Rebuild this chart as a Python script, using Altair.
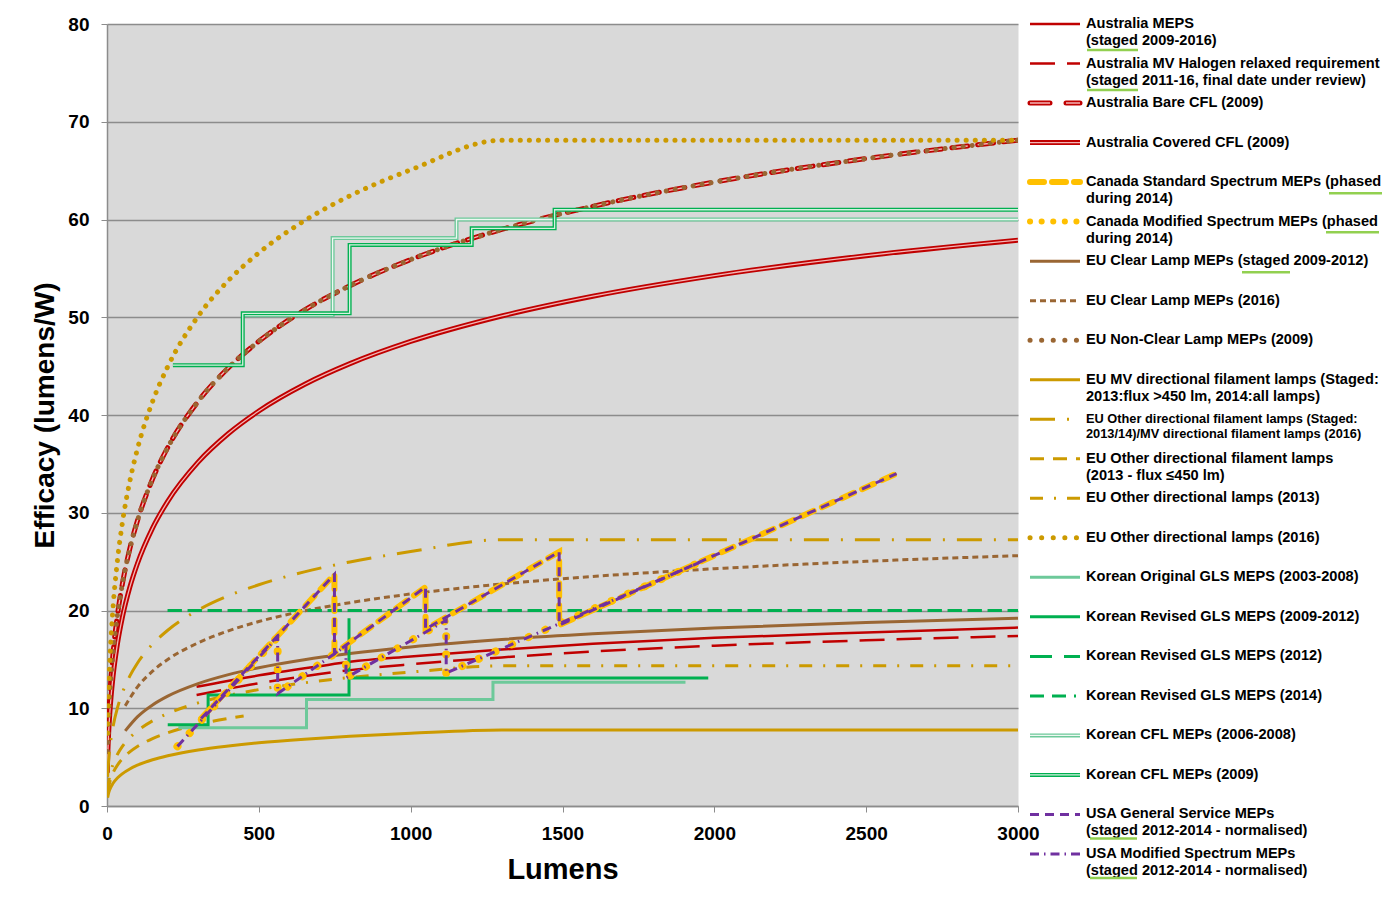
import altair as alt
import pandas as pd

FONT = "Liberation Sans"

# ---------------- data ----------------
# Australia
aus_lm = [295, 470, 700, 800, 1000, 1300, 1600, 2000, 2500, 3000]
aus_meps_eff = [12.2, 13.2, 14.3, 14.75, 15.3, 16.0, 16.6, 17.2, 17.75, 18.25]
aus_halogen_eff = [11.35, 12.4, 13.5, 13.9, 14.5, 15.2, 15.8, 16.4, 16.95, 17.4]

cfl_lm = [1, 2, 5, 10, 20, 35, 50, 75, 100, 150, 200, 300, 400, 500, 650, 800,
          1000, 1300, 1600, 2000, 2500, 3000]
aus_bare_cfl_eff = [4.0, 5.56, 8.50, 11.60, 15.63, 19.66, 22.60, 26.31, 29.15, 33.45,
                    36.67, 41.39, 44.84, 47.54, 50.73, 53.23, 55.90, 58.98, 61.35,
                    63.83, 66.23, 68.11]
aus_covered_cfl_eff = [3.40, 4.73, 7.23, 9.86, 13.29, 16.71, 19.21, 22.36, 24.78, 28.43,
                       31.17, 35.18, 38.11, 40.41, 43.12, 45.25, 47.52, 50.13, 52.15,
                       54.26, 56.30, 57.89]
eu_nonclear_eff = [4.0, 5.56, 8.50, 11.60, 15.63, 19.66, 22.60, 26.31, 29.15, 33.45,
                   36.67, 41.39, 44.84, 47.54, 50.73, 53.23, 55.90, 58.98, 61.35,
                   63.83, 66.23, 68.11]

# EU clear lamps
eu_clear_lm = [60, 100, 150, 200, 300, 400, 500, 650, 800, 1000, 1300, 1600, 2000, 2500, 3000]
eu_clear_staged_eff = [7.69, 9.12, 10.34, 11.24, 12.52, 13.44, 14.15, 14.97, 15.60, 16.27,
                       17.03, 17.61, 18.20, 18.77, 19.21]
eu_clear_2016_eff = [10.25, 12.16, 13.79, 14.99, 16.69, 17.92, 18.87, 19.96, 20.80, 21.69,
                     22.71, 23.48, 24.27, 25.03, 25.61]

# EU directional lamps
dir_lm = [2, 5, 10, 20, 35, 50, 75, 100, 150, 200, 300, 400, 500, 650, 800, 1000, 1300, 3000]
eu_mv_dir_eff = [0.85, 1.29, 1.75, 2.32, 2.89, 3.29, 3.79, 4.17, 4.73, 5.14, 5.73, 6.14,
                 6.47, 6.84, 7.13, 7.44, 7.78, 7.78]
eu_other_staged_eff = [2.98, 4.52, 6.11, 8.14, 10.11, 11.53, 13.28, 14.60, 16.55, 17.98,
                       20.04, 21.51, 22.63, 23.95, 24.97, 26.03, 27.24, 27.24]
eu_other_2013_eff = [1.57, 2.38, 3.22, 4.28, 5.32, 6.07, 6.99, 7.68, 8.71, 9.46, 10.55,
                     11.32, 11.91, 12.60, 13.14, 13.70, 14.34, 14.34]
eu_other_2016_eff = [7.45, 11.30, 15.28, 20.34, 25.29, 28.83, 33.20, 36.50, 41.38, 44.95,
                     50.10, 53.77, 56.59, 59.87, 62.42, 65.08, 68.11, 68.11]
low_lm = [2, 5, 10, 20, 35, 50, 75, 100, 150, 200, 300, 400, 450]
eu_other_450_eff = [1.24, 1.88, 2.55, 3.39, 4.21, 4.80, 5.53, 6.08, 6.90, 7.49, 8.35, 8.96, 9.21]

# Korea
kor_orig_lm = [235, 657, 657, 1271, 1271, 1905]
kor_orig_eff = [8.0, 8.0, 10.9, 10.9, 12.65, 12.65]
kor_2009_lm = [200, 333, 333, 797, 797, 797, 1980]
kor_2009_eff = [8.3, 8.3, 11.35, 11.35, 19.2, 13.1, 13.1]
kor_2012_lm = [200, 3000]
kor_2012_eff = [20.0, 20.0]
kor_2014_lm = [200, 3000]
kor_2014_eff = [20.0, 20.0]
kor_cfl_0608_lm = [447, 743, 743, 1151, 1151, 3000]
kor_cfl_0608_eff = [50.2, 50.2, 58.1, 58.1, 60.0, 60.0]
kor_cfl_09_lm = [217, 447, 447, 799, 799, 1201, 1201, 1474, 1474, 3000]
kor_cfl_09_eff = [45.1, 45.1, 50.4, 50.4, 57.4, 57.4, 59.1, 59.1, 61.0, 61.0]

# Canada / USA (normalised)
gs_lm = [310, 749, 749, 1049, 1049, 1489, 1489, 2600]
gs_eff = [8.95, 23.7, 15.6, 22.4, 18.1, 26.0, 18.5, 34.0]
mod_lm = [232, 562, 562, 787, 787, 1117, 1117, 1950]
mod_eff = [6.1, 17.3, 11.5, 16.4, 13.1, 19.0, 13.6, 24.9]

x_ticks = [0, 500, 1000, 1500, 2000, 2500, 3000]
y_ticks = [0, 10, 20, 30, 40, 50, 60, 70, 80]

legend_keys = ["aus_meps", "aus_halogen", "aus_bare", "aus_covered", "can_std", "can_mod",
               "eu_clear_staged", "eu_clear_2016", "eu_nonclear", "eu_mv_dir",
               "eu_other_staged", "eu_other_450", "eu_other_2013", "eu_other_2016",
               "kor_orig", "kor_2009", "kor_2012", "kor_2014", "kor_cfl_0608", "kor_cfl_09",
               "usa_gs", "usa_mod"]
legend_labels = [
    ["Australia MEPS", "(staged 2009-2016)"],
    ["Australia MV Halogen relaxed requirement", "(staged 2011-16,  final date under review)"],
    ["Australia Bare CFL  (2009)"],
    ["Australia Covered CFL  (2009)"],
    ["Canada Standard Spectrum MEPs (phased", "during 2014)"],
    ["Canada Modified Spectrum MEPs (phased", "during 2014)"],
    ["EU Clear Lamp MEPs (staged 2009-2012)"],
    ["EU Clear Lamp MEPs (2016)"],
    ["EU Non-Clear Lamp MEPs  (2009)"],
    ["EU MV directional filament lamps (Staged:", "2013:flux  >450 lm, 2014:all  lamps)"],
    ["EU Other directional filament lamps (Staged:", "2013/14)/MV directional filament lamps (2016)"],
    ["EU Other directional filament lamps", "(2013  - flux \u2264450  lm)"],
    ["EU Other directional lamps (2013)"],
    ["EU Other directional lamps (2016)"],
    ["Korean Original GLS MEPS  (2003-2008)"],
    ["Korean Revised GLS MEPS  (2009-2012)"],
    ["Korean Revised GLS MEPS  (2012)"],
    ["Korean Revised GLS MEPS  (2014)"],
    ["Korean CFL MEPs  (2006-2008)"],
    ["Korean CFL MEPs  (2009)"],
    ["USA General Service MEPs", "(staged 2012-2014  - normalised)"],
    ["USA Modified Spectrum  MEPs", "(staged 2012-2014  - normalised)"],
]
legend_font_sizes = [14.6] * 22
legend_font_sizes[10] = 12.8

# proofing underlines under "staged"/"phased" in the legend (legend px, row position)
ul_x = [61, 61, 303, 300, 216, 64, 64]
ul_x2 = [112, 112, 356, 353, 264, 111, 111]
ul_row = [0.66, 1.67, 4.28, 5.27, 6.28, 20.61, 21.61]

# ---------------- styles ----------------
RED, RED_IN = "#C00000", "#F3B5B5"
YEL = "#FFC000"
BROWN = "#9A6633"
GOLD = "#CC9A00"
KG_L, KG = "#6DC99A", "#00B050"
PURPLE = "#7030A0"


def st(color, width, dash=None, cap="butt"):
    d = {"color": color, "strokeWidth": width, "strokeCap": cap}
    if dash:
        d["strokeDash"] = dash
    return d


styles = {
    "aus_meps": [st(RED, 2.5)],
    "aus_halogen": [st(RED, 2.5, [25, 12])],
    "aus_bare": [st(RED, 5, [16, 10], "round"), st(RED_IN, 1.4, [16, 10])],
    "aus_covered": [st(RED, 5), st(RED_IN, 1.3)],
    "can_std": [st(YEL, 6, [13, 9], "round")],
    "can_mod": [st(YEL, 8, [0.1, 18], "round")],
    "eu_clear_staged": [st(BROWN, 3)],
    "eu_clear_2016": [st(BROWN, 3, [6, 4])],
    "eu_nonclear": [st(BROWN, 5, [0.1, 9], "round")],
    "eu_mv_dir": [st(GOLD, 3)],
    "eu_other_staged": [st(GOLD, 3, [25, 12, 2, 12])],
    "eu_other_450": [st(GOLD, 3, [14, 9])],
    "eu_other_2013": [st(GOLD, 3, [13, 11, 2, 11])],
    "eu_other_2016": [st(GOLD, 5, [0.1, 9], "round")],
    "kor_orig": [st(KG_L, 3)],
    "kor_2009": [st(KG, 3)],
    "kor_2012": [st(KG, 3, [14, 6])],
    "kor_2014": [st(KG, 3, [14, 6])],
    "kor_cfl_0608": [st(KG_L, 4), st("#EEF8F2", 1.3)],
    "kor_cfl_09": [st(KG, 4), st("#D5F0E0", 1.3)],
    "usa_gs": [st(PURPLE, 3, [9, 6])],
    "usa_mod": [st(PURPLE, 3, [9, 5, 1.5, 5])],
}
legend_styles = dict(styles)
legend_styles["can_mod"] = [st(YEL, 6, [0.1, 11.5], "round")]
legend_styles["eu_nonclear"] = [st(BROWN, 5, [0.1, 11.5], "round")]
legend_styles["eu_other_2016"] = [st(GOLD, 5, [0.1, 11.5], "round")]
legend_styles["aus_bare"] = [st(RED, 5, [20, 16], "round"), st(RED_IN, 1.4, [20, 16])]
legend_styles["can_std"] = [st(YEL, 6, [14, 8], "round")]
legend_styles["kor_2012"] = [st(KG, 3, [22, 12])]
legend_styles["kor_2014"] = [st(KG, 3, [14, 8, 14, 8, 2, 6])]

# drawing order (bottom -> top) with data
series = [
    ("aus_meps", aus_lm, aus_meps_eff, "monotone"),
    ("aus_halogen", aus_lm, aus_halogen_eff, "monotone"),
    ("aus_bare", cfl_lm, aus_bare_cfl_eff, "monotone"),
    ("aus_covered", cfl_lm, aus_covered_cfl_eff, "monotone"),
    ("eu_clear_staged", eu_clear_lm, eu_clear_staged_eff, "monotone"),
    ("eu_clear_2016", eu_clear_lm, eu_clear_2016_eff, "monotone"),
    ("eu_nonclear", cfl_lm[1:], eu_nonclear_eff[1:], "monotone"),
    ("eu_mv_dir", dir_lm, eu_mv_dir_eff, "monotone"),
    ("eu_other_staged", dir_lm, eu_other_staged_eff, "monotone"),
    ("eu_other_450", low_lm, eu_other_450_eff, "monotone"),
    ("eu_other_2013", dir_lm, eu_other_2013_eff, "monotone"),
    ("eu_other_2016", dir_lm, eu_other_2016_eff, "monotone"),
    ("kor_orig", kor_orig_lm, kor_orig_eff, "linear"),
    ("kor_2009", kor_2009_lm, kor_2009_eff, "linear"),
    ("kor_2012", kor_2012_lm, kor_2012_eff, "linear"),
    ("kor_2014", kor_2014_lm, kor_2014_eff, "linear"),
    ("kor_cfl_0608", kor_cfl_0608_lm, kor_cfl_0608_eff, "linear"),
    ("kor_cfl_09", kor_cfl_09_lm, kor_cfl_09_eff, "linear"),
    ("can_std", gs_lm, gs_eff, "linear"),
    ("can_mod", mod_lm, mod_eff, "linear"),
    ("usa_gs", gs_lm, gs_eff, "linear"),
    ("usa_mod", mod_lm, mod_eff, "linear"),
]

# ---------------- main chart ----------------
x_axis = alt.Axis(values=x_ticks, title="Lumens", grid=False, format="d",
                  labelFont=FONT, labelFontSize=19, labelFontWeight="bold", labelColor="#000",
                  tickColor="#8C8C8C", tickSize=6, domainColor="#8C8C8C", domainWidth=1.5,
                  titleFont=FONT, titleFontSize=29, titleFontWeight="bold", titleColor="#000",
                  labelPadding=12, titlePadding=12, labelFlush=False)
y_axis = alt.Axis(values=y_ticks, title="Efficacy (lumens/W)", grid=True,
                  gridColor="#8C8C8C", gridWidth=1.3,
                  labelFont=FONT, labelFontSize=19, labelFontWeight="bold", labelColor="#000",
                  tickColor="#8C8C8C", tickSize=6, domainColor="#8C8C8C", domainWidth=1.5,
                  titleFont=FONT, titleFontSize=28, titleFontWeight="bold", titleColor="#000",
                  labelPadding=12, titlePadding=8)
xs = alt.Scale(domain=[0, 3000], nice=False)
ys = alt.Scale(domain=[0, 80], nice=False)

layers = []
for key, lm, eff, interp in series:
    df = pd.DataFrame({"lm": lm, "eff": eff, "i": list(range(len(lm)))})
    for s in styles[key]:
        layers.append(
            alt.Chart(df).mark_line(interpolate=interp, clip=True, **s).encode(
                x=alt.X("lm:Q", scale=xs, axis=x_axis),
                y=alt.Y("eff:Q", scale=ys, axis=y_axis),
                order=alt.Order("i:Q"),
            )
        )

main = alt.layer(*layers).properties(
    width=911, height=782,
    view=alt.ViewBackground(fill="#D9D9D9", stroke="transparent"),
)

# ---------------- legend panel ----------------
LW = 356
lx = alt.Scale(domain=[0, LW], nice=False, zero=False)
ly = alt.Scale(domain=[0, 21], nice=False, reverse=True)

leg_layers = []
for idx, key in enumerate(legend_keys):
    ldf = pd.DataFrame({"x": [4, 54], "y": [idx, idx]})
    for s in legend_styles[key]:
        leg_layers.append(
            alt.Chart(ldf).mark_line(**s).encode(
                x=alt.X("x:Q", scale=lx, axis=None),
                y=alt.Y("y:Q", scale=ly, axis=None),
            )
        )

tx, ty, tt, tf = [], [], [], []
for idx, lines in enumerate(legend_labels):
    fs = legend_font_sizes[idx]
    step = 0.43 if fs >= 14 else 0.38
    for j, line in enumerate(lines):
        tx.append(60)
        ty.append(idx + j * step)
        tt.append(line)
        tf.append(fs)
text_df = pd.DataFrame({"x": tx, "y": ty, "t": tt, "fs": tf})
leg_layers.append(
    alt.Chart(text_df).mark_text(align="left", baseline="middle", font=FONT,
                                 fontWeight="bold", color="#000").encode(
        x=alt.X("x:Q", scale=lx, axis=None),
        y=alt.Y("y:Q", scale=ly, axis=None),
        text="t:N",
        size=alt.Size("fs:Q", scale=None),
    )
)
ul_df = pd.DataFrame({"x": ul_x, "x2": ul_x2, "y": ul_row})
leg_layers.append(
    alt.Chart(ul_df).mark_rule(color="#92D050", strokeWidth=2.5).encode(
        x=alt.X("x:Q", scale=lx, axis=None),
        x2="x2:Q",
        y=alt.Y("y:Q", scale=ly, axis=None),
    )
)

legend = alt.layer(*leg_layers).properties(
    width=LW, height=830,
    view=alt.ViewBackground(stroke="transparent"),
)

chart = alt.hconcat(main, legend, spacing=8, bounds="flush").properties(
    padding={"left": 23, "top": 6, "right": 0, "bottom": 0},
    background="white",
)

chart.save("out.html", embed_options={"renderer": "svg", "actions": False})
